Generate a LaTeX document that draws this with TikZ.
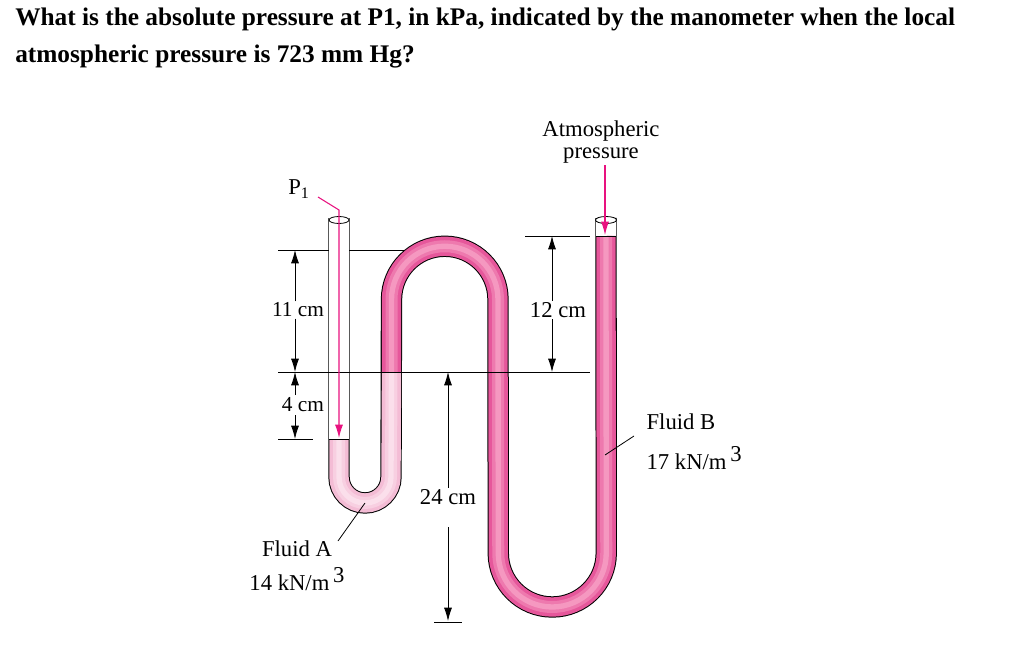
\documentclass[tikz,border=0pt]{standalone}
\usepackage{fontspec}
\setmainfont{Liberation Serif}
\usetikzlibrary{arrows.meta}
\definecolor{pinkB}{HTML}{E6579B}
\definecolor{pinkBm}{HTML}{EE79AE}
\definecolor{pinkBc}{HTML}{F598C0}
\definecolor{pinkA}{HTML}{F4BCD5}
\definecolor{pinkAm}{HTML}{F8CFE1}
\definecolor{pinkAc}{HTML}{FBDFEB}
\definecolor{mag}{HTML}{E8127F}
\tikzset{
 lbl/.style={font=\fontsize{17}{19}\selectfont, inner sep=1pt},
 dim/.style={-{Latex[length=10pt,width=6pt]}, line width=0.6pt},
 thin/.style={line width=0.6pt},
 mg/.style={mag, line width=0.8pt},
}
\newcommand{\pathA}{(339,439) -- (339,477) arc(180:0:26) -- (391.5,372)}
\newcommand{\pathB}{(391.5,372) -- (391.5,299.5) arc(180:360:53.25) -- (498.25,553) arc(180:0:54) -- (606,236)}
\begin{document}
\begin{tikzpicture}[x=0.75pt,y=-0.75pt]
\useasboundingbox (0,0) rectangle (1024,656);
% title
\node[anchor=west, font=\bfseries\fontsize{19}{22}\selectfont, inner sep=0] (t1) at (15,19) {What is the absolute pressure at P1, in kPa, indicated by the manometer when the local};
\node[anchor=west, font=\bfseries\fontsize{19}{22}\selectfont, inner sep=0] (t2) at (15,57) {atmospheric pressure is 723 mm Hg?};
% reference line behind
\draw[thin] (278,250) -- (404,250);
\draw[thin] (525,236) -- (590,236);
% tube outline
\draw[line width=16pt] (339,218) -- (339,477) arc(180:0:26) -- (391.5,299.5) arc(180:360:53.25) -- (498.25,553) arc(180:0:54) -- (606,218);
% empty parts
\draw[white, line width=14.5pt] (339,218) -- (339,439);
\draw[white, line width=14.5pt] (606,218) -- (606,236);
% fluid A
\draw[pinkA, line width=14.5pt] \pathA;
\draw[pinkAm, line width=9pt] \pathA;
\draw[pinkAc, line width=4pt] \pathA;
% fluid B
\draw[pinkB, line width=14.5pt] \pathB;
\draw[pinkBm, line width=9pt] \pathB;
\draw[pinkBc, line width=4pt] \pathB;
\draw[thin] (329,439) -- (349,439);
\draw[thin] (596,236) -- (616,236);
% tops
\draw[thin, fill=white] (339,220) ellipse (10 and 3.5);
\draw[thin, fill=white] (606,220) ellipse (10.5 and 3.5);
% lines
\draw[thin] (278,372) -- (590,372);
\draw[thin] (278,439) -- (313,439);
% dims
\node[lbl, font=\fontsize{16}{18}\selectfont] (d11) at (298,310) {11 cm};
\draw[dim] (d11.north -| 295,0) -- (295,250);
\draw[dim] (d11.south -| 295,0) -- (295,372);
\node[lbl, fill=white, font=\fontsize{16}{18}\selectfont] (d4) at (303,405) {4 cm};
\draw[dim] (295,395) -- (295,372);
\draw[dim] (295,415) -- (295,439);
\node[lbl] (d12) at (558,310) {12 cm};
\draw[dim] (d12.north -| 552,0) -- (552,236);
\draw[dim] (d12.south -| 552,0) -- (552,372);
\node[lbl] (d24) at (448,497) {24 cm};
\draw[dim] (d24.north) -- (448,372);
\draw[dim] (448,527) -- (448,621);
\draw[thin] (434,622) -- (462,622);
% P1
\node[lbl] (p1) at (299,189) {P\textsubscript{\fontsize{12}{12}\selectfont 1}};
\draw[mg, -{Latex[length=10pt,width=6pt]}] (318,197) -- (339,210) -- (339,438);
% atmospheric
\node[lbl, align=center] (atm) at (601,142) {Atmospheric\\[-2pt]pressure};
\draw[mg, -{Latex[length=10pt,width=6pt]}] (atm.south -| 605,0) -- (605,235);
% fluid labels
\node[lbl, anchor=west] (fb) at (645,422) {Fluid B};
\node[lbl, anchor=west] (fbw) at (645,458) {17 kN/m\,\raisebox{6pt}{3}};
\draw[thin] (634,436) -- (605,455);
\node[lbl] (fa) at (297,549) {Fluid A};
\node[lbl] (faw) at (297,579) {14 kN/m\,\raisebox{6pt}{3}};
\draw[thin] (338,541) -- (365,503);
\end{tikzpicture}
\end{document}
